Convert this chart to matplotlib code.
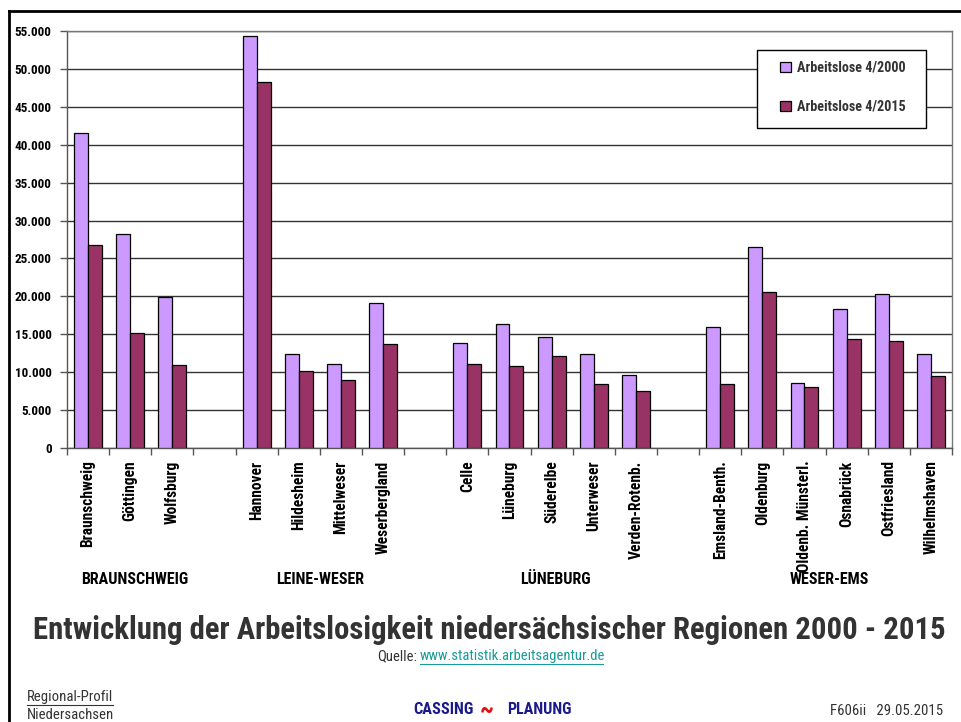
import matplotlib
matplotlib.use("Agg")
import matplotlib.pyplot as plt
from matplotlib import font_manager as fm
from matplotlib.lines import Line2D
from matplotlib.patches import Rectangle
import numpy as np

# choose a narrow font if one exists
names = {f.name for f in fm.fontManager.ttflist}
stretch = "normal"
base = "Liberation Sans"
for cand in ["Liberation Sans Narrow", "Arial Narrow", "Roboto Condensed", "Open Sans Condensed"]:
    if cand in names:
        base = cand
        break
else:
    if any(f.name == "DejaVu Sans" and f.stretch == "condensed" for f in fm.fontManager.ttflist):
        base = "DejaVu Sans"
        stretch = "condensed"
plt.rcParams['font.family'] = [base, 'DejaVu Sans']
plt.rcParams['font.stretch'] = stretch

# slots (empty strings = gaps between groups)
categories = ["Braunschweig", "Göttingen", "Wolfsburg", "",
              "Hannover", "Hildesheim", "Mittelweser", "Weserbergland", "",
              "Celle", "Lüneburg", "Süderelbe", "Unterweser", "Verden-Rotenb.", "",
              "Emsland-Benth.", "Oldenburg", "Oldenb. Münsterl.", "Osnabrück", "Ostfriesland", "Wilhelmshaven"]
values_2000 = [41510, 28180, 19870, None,
               54300, 12420, 11120, 19090, None,
               13890, 16350, 14640, 12440, 9590, None,
               15960, 26500, 8530, 18280, 20260, 12400]
values_2015 = [26730, 15130, 10990, None,
               48270, 10220, 8930, 13720, None,
               11120, 10860, 12180, 8480, 7560, None,
               8400, 20530, 8040, 14420, 14150, 9450]
groups = ["BRAUNSCHWEIG", "LEINE-WESER", "LÜNEBURG", "WESER-EMS"]
group_centers = [1.6, 6.0, 11.6, 18.1]
series_names = ["Arbeitslose 4/2000", "Arbeitslose 4/2015"]
yticks = list(range(0, 55001, 5000))

c2000 = "#CC99FF"
c2015 = "#993366"

fig = plt.figure(figsize=(9.61, 7.22), dpi=100)
renderer = fig.canvas.get_renderer()


def fit(t, target_px, axis="w"):
    bb = t.get_window_extent(renderer=renderer)
    cur = bb.width if axis == "w" else bb.height
    if cur > 0:
        t.set_fontsize(t.get_fontsize() * target_px / cur)
    return t


def fx(px):
    return px / 961


def fy(py):
    return 1 - py / 722


ax = fig.add_axes([fx(67), fy(448), 885/961, 417/722])

x = np.arange(len(categories)) + 0.5
w = 0.33
idx = [i for i, v in enumerate(values_2000) if v is not None]
xa = np.array([x[i] for i in idx])
ax.bar(xa - w/2, [values_2000[i] for i in idx], width=w, color=c2000,
       edgecolor="black", linewidth=0.9, zorder=3, label=series_names[0])
ax.bar(xa + w/2, [values_2015[i] for i in idx], width=w, color=c2015,
       edgecolor="black", linewidth=0.9, zorder=3, label=series_names[1])

ax.set_xlim(0, len(categories))
ax.set_ylim(0, 55000)
ax.set_yticks(yticks)
ax.set_yticklabels([f"{v:,}".replace(",", ".") for v in yticks],
                   fontsize=10, fontweight="bold")
ax.yaxis.grid(True, color="#333333", linewidth=1.0, zorder=0)
ax.set_axisbelow(True)

ax.set_xticks(np.arange(0, len(categories) + 1), minor=True)
ax.set_xticks(x)
ax.set_xticklabels(categories, rotation=90, fontsize=10, fontweight="bold")
ax.tick_params(axis="x", which="major", length=0, pad=9)
ax.tick_params(axis="x", which="minor", length=5, color="#555555", width=1)
ax.tick_params(axis="y", length=5, color="#555555", width=1, pad=6)

for s in ax.spines.values():
    s.set_color("#777777")
    s.set_linewidth(1.0)
ax.spines["left"].set_color("#555555")
ax.spines["bottom"].set_color("#555555")

# scale tick label fonts to the reference sizes
fig.canvas.draw()
yl = ax.get_yticklabels()[-1]
ysz = yl.get_fontsize() * 37 / yl.get_window_extent(renderer).width
for t in ax.get_yticklabels():
    t.set_fontsize(ysz)
xl = ax.get_xticklabels()[17]
xsz = xl.get_fontsize() * 112 / xl.get_window_extent(renderer).height
for t in ax.get_xticklabels():
    t.set_fontsize(xsz)

# legend: frame drawn as its own rectangle, entries placed inside
tmp = fig.text(0, 0, series_names[0], fontsize=10, fontweight="bold")
fit(tmp, 109)
lsz = tmp.get_fontsize()
tmp.remove()

fig.add_artist(Rectangle((fx(757), fy(128)), fx(926) - fx(757), fy(50) - fy(128),
                         transform=fig.transFigure, facecolor="white",
                         edgecolor="black", linewidth=1.0, zorder=4))
leg = fig.legend(loc="upper left", bbox_to_anchor=(fx(780), fy(61)),
                 bbox_transform=fig.transFigure,
                 frameon=False, handlelength=0.75, handleheight=0.75, handletextpad=0.45,
                 labelspacing=1.75, borderpad=0, borderaxespad=0,
                 prop={"weight": "bold", "size": lsz, "stretch": stretch})
leg.set_zorder(5)
for t in leg.get_texts():
    t.set_color("#333333")

# group labels
gsz = None
for g, gc in zip(groups, group_centers):
    t = fig.text(fx(67 + gc * 885/21), fy(580), g, ha="center", va="center",
                 fontsize=10, fontweight="bold")
    if gsz is None:
        fit(t, 107)
        gsz = t.get_fontsize()
    else:
        t.set_fontsize(gsz)

# title and source
title = fig.text(fx(489), fy(630),
                 "Entwicklung der Arbeitslosigkeit niedersächsischer Regionen 2000 - 2015",
                 ha="center", va="center", fontsize=22, fontweight="bold", color="#333333")
fit(title, 912)
link = fig.text(fx(420), fy(656), "www.statistik.arbeitsagentur.de", ha="left", va="center",
                fontsize=10, color="#1a9a9a")
fit(link, 183)
fig.text(fx(417), fy(656), "Quelle:", ha="right", va="center",
         fontsize=link.get_fontsize(), color="#333333")
fig.add_artist(Line2D([fx(420), fx(603)], [fy(664), fy(664)], color="#1a9a9a", linewidth=0.8))

# footer
nied = fig.text(fx(27), fy(715), "Niedersachsen", ha="left", va="center", fontsize=10, color="#333333")
fit(nied, 86)
reg = fig.text(fx(27), fy(697), "Regional-Profil", ha="left", va="center",
               fontsize=nied.get_fontsize(), color="#333333")
rb = reg.get_window_extent(renderer)
fig.add_artist(Line2D([fx(27), fx(27 + rb.width)], [fy(705), fy(705)], color="#333333", linewidth=0.8))
t = fig.text(fx(474), fy(710), "CASSING", ha="right", va="center", fontsize=10,
             fontweight="bold", color="#1a1a8c")
fit(t, 60)
fig.text(fx(487), fy(711), "~", ha="center", va="center", fontsize=18,
         fontweight="bold", color="#dd1111")
t = fig.text(fx(507), fy(710), "PLANUNG", ha="left", va="center", fontsize=10,
             fontweight="bold", color="#1a1a8c")
fit(t, 64)
t = fig.text(fx(943), fy(711), "F606ii   29.05.2015", ha="right", va="center", fontsize=10, color="#333333")
fit(t, 112)

# frame lines
fig.add_artist(Line2D([fx(9), 1.0], [fy(11), fy(11)], color="black", linewidth=2))
fig.add_artist(Line2D([fx(9), fx(9)], [fy(11), 0], color="black", linewidth=2))

fig.savefig("out.png", dpi=100)
